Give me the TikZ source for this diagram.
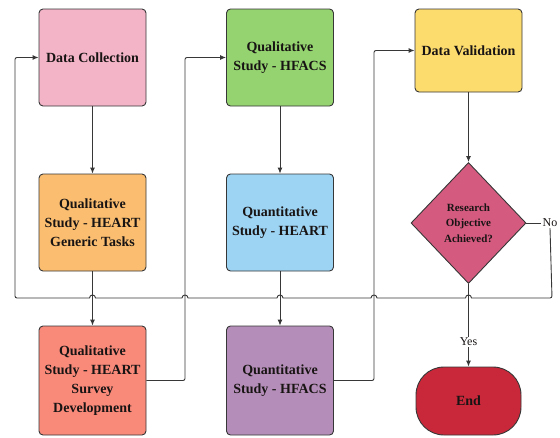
\documentclass[tikz,border=0pt]{standalone}
\usepackage{fontspec}
\setmainfont{Liberation Serif}
\usetikzlibrary{arrows.meta,shapes.geometric}

\definecolor{cPink}{RGB}{243,180,200}
\definecolor{cOrange}{RGB}{251,190,112}
\definecolor{cSalmon}{RGB}{249,138,122}
\definecolor{cGreen}{RGB}{148,211,112}
\definecolor{cBlue}{RGB}{157,212,243}
\definecolor{cPurple}{RGB}{180,142,184}
\definecolor{cYellow}{RGB}{253,220,110}
\definecolor{cDiamond}{RGB}{212,90,128}
\definecolor{cEnd}{RGB}{200,40,58}
\definecolor{cEdge}{RGB}{55,55,55}
\definecolor{cText}{RGB}{25,20,20}

\tikzset{
  box/.style={draw=cEdge, line width=0.9pt, rounded corners=4pt, inner sep=2pt,
    minimum width=107pt, minimum height=97pt, align=center, text=cText,
    font=\fontsize{14}{19}\selectfont\bfseries},
  decision/.style={diamond, draw=cEdge, line width=0.9pt, inner sep=0pt, fill=cDiamond,
    minimum width=115pt, minimum height=121pt, align=center, text=cText,
    font=\fontsize{11}{15.5}\selectfont\bfseries},
  terminal/.style={rectangle, rounded corners=28pt, draw=cEdge,
    line width=0.9pt, fill=cEnd, minimum width=105pt, minimum height=68pt,
    text=cText, font=\fontsize{14}{16}\selectfont\bfseries},
  link/.style={draw=cEdge, line width=0.9pt},
  arr/.style={link, -{Latex[length=6pt,width=5pt]}},
  lbl/.style={font=\fontsize{12}{14}\selectfont, text=cText, inner sep=1pt}
}

\begin{document}
\begin{tikzpicture}[x=1pt,y=-1pt]
\useasboundingbox (0,0) rectangle (560,437);

% first column
\node[box, fill=cPink]   (dc)  at (92.5,57.5)  {Data Collection};
\node[box, fill=cOrange] (gen) at (92.5,222.5) {Qualitative\\Study - HEART\\Generic Tasks};
\node[box, fill=cSalmon, minimum height=109pt] (svy) at (92.5,380.5)
  {Qualitative\\Study - HEART\\Survey\\Development};

% second column
\node[box, fill=cGreen]  (qlh) at (280,57.5)  {Qualitative\\Study - HFACS};
\node[box, fill=cBlue]   (qnh) at (280,222.5) {Quantitative\\Study - HEART};
\node[box, fill=cPurple, minimum height=109pt] (qnf) at (280,380.5)
  {Quantitative\\Study - HFACS};

% third column
\node[box, fill=cYellow, minimum height=83pt] (dv) at (468.5,50.5) {Data Validation};
\node[decision] (roa) at (468.5,223) {Research\\Objective\\Achieved?};
\node[terminal] (end) at (468.5,401) {End};
\node[lbl] (no) at (550,223) {No};

% straight flow
\draw[arr] (dc) -- (gen);
\draw[arr] (gen) -- (svy);
\draw[arr] (qlh) -- (qnh);
\draw[arr] (qnh) -- (qnf);
\draw[arr] (dv) -- (roa);
\draw[arr] (roa) -- node[lbl, fill=white, pos=0.7] (yes) {Yes} (end);

% column hand-overs
\draw[arr, rounded corners=2pt] (svy.east) -- (185,380.5) |- (qlh.west);
\draw[arr, rounded corners=2pt] (qnf.east) -- (374,380.5) |- (dv.west);

% "No" loop back to the start, hopping over the vertical links
\draw[link] (roa.east) -- (no.west);
\draw[arr] (no.south) [rounded corners=2pt] -- (552,298) [sharp corners] -- (471.5,298)
  .. controls (471.5,294) and (465.5,294) .. (465.5,298) -- (377,298)
  .. controls (377,294) and (371,294) .. (371,298) -- (283,298)
  .. controls (283,294) and (277,294) .. (277,298) -- (188,298)
  .. controls (188,294) and (182,294) .. (182,298) -- (95.5,298)
  .. controls (95.5,294) and (89.5,294) .. (89.5,298) [rounded corners=2pt] -- (15,298)
  |- (dc.west);
\end{tikzpicture}
\end{document}
